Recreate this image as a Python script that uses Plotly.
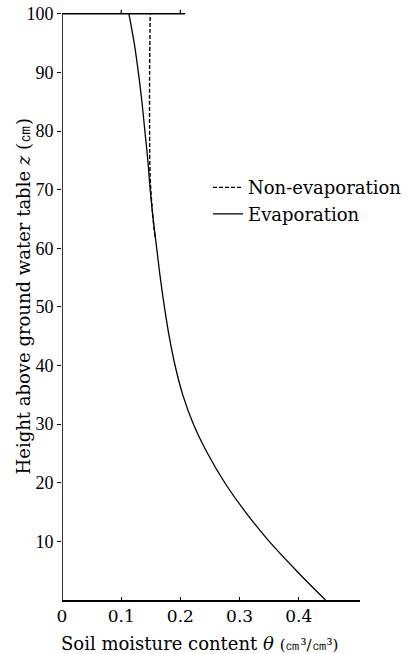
import plotly.graph_objects as go

# Data
z_evap = [0, 5, 10, 15, 20, 25, 30, 35, 40, 45, 50, 55, 60, 65, 70, 75, 80, 85, 90, 95, 100]
theta_evap = [0.445, 0.396, 0.350, 0.310, 0.275, 0.246, 0.222, 0.204, 0.191, 0.181, 0.173,
              0.166, 0.160, 0.154, 0.149, 0.145, 0.140, 0.135, 0.129, 0.122, 0.113]

z_nonevap = [62, 66, 72, 80, 90, 100]
theta_nonevap = [0.157, 0.153, 0.149, 0.148, 0.148, 0.149]

x_tickvals = [0, 0.1, 0.2, 0.3, 0.4]
x_ticktext = ["0", "0.1", "0.2", "0.3", "0.4"]
y_tickvals = [10, 20, 30, 40, 50, 60, 70, 80, 90, 100]

top_frame_x = [0, 0.208]
top_frame_z = [100, 100]
top_tick_x = [0.1, 0.2]

SERIF = "DejaVu Serif"
TIMES = "Liberation Serif"

fig = go.Figure()

fig.add_trace(go.Scatter(
    x=theta_nonevap, y=z_nonevap, mode="lines", name="Non-evaporation",
    line=dict(color="black", width=1.4, dash="4px,2px", shape="spline"),
))
fig.add_trace(go.Scatter(
    x=theta_evap, y=z_evap, mode="lines", name="Evaporation",
    line=dict(color="black", width=1.3, shape="spline", smoothing=1.0),
))

# left frame line and top frame line
fig.add_trace(go.Scatter(x=[0, 0], y=[0, 100], mode="lines", showlegend=False,
                         line=dict(color="black", width=1.6), hoverinfo="skip"))
fig.add_trace(go.Scatter(x=top_frame_x, y=top_frame_z, mode="lines", showlegend=False,
                         line=dict(color="black", width=1.6), hoverinfo="skip"))
tx, ty = [], []
for v in top_tick_x:
    tx += [v, v, None]
    ty += [100, 100.7, None]
fig.add_trace(go.Scatter(x=tx, y=ty, mode="lines", showlegend=False,
                         line=dict(color="black", width=1.2), hoverinfo="skip"))

fig.update_layout(
    width=412, height=654,
    margin=dict(l=62, r=52, t=5, b=54),
    paper_bgcolor="white", plot_bgcolor="white",
    showlegend=True,
    legend=dict(x=0.49, y=0.724, xanchor="left", yanchor="top",
                font=dict(family=SERIF, size=18, color="black"),
                bgcolor="rgba(0,0,0,0)", borderwidth=0,
                tracegroupgap=0, itemwidth=30),
    xaxis=dict(range=[0, 0.5034], tickvals=x_tickvals, ticktext=x_ticktext,
               ticks="inside", ticklen=3, tickwidth=1, tickcolor="black",
               showline=True, linecolor="black", linewidth=1.6,
               showgrid=False, zeroline=False,
               tickfont=dict(family=SERIF, size=17, color="black")),
    yaxis=dict(range=[0, 101.5], tickvals=y_tickvals,
               ticks="outside", ticklen=4, tickwidth=1, tickcolor="black",
               showline=False, showgrid=False, zeroline=False,
               tickfont=dict(family=TIMES, size=18, color="black")),
    annotations=[
        dict(text="Soil moisture content <i>θ</i> <span style='font-size:15px'>(㎝³/㎝³)</span>",
             xref="paper", yref="paper", x=0.463, y=-0.0723,
             xanchor="center", yanchor="middle", showarrow=False,
             font=dict(family=SERIF, size=18, color="black")),
        dict(text="Height above ground water table <i>z</i> (㎝)",
             xref="paper", yref="paper", x=-0.128, y=0.51,
             xanchor="center", yanchor="middle", showarrow=False, textangle=-90,
             font=dict(family=SERIF, size=18, color="black")),
    ],
)

fig.write_html("out.html")
